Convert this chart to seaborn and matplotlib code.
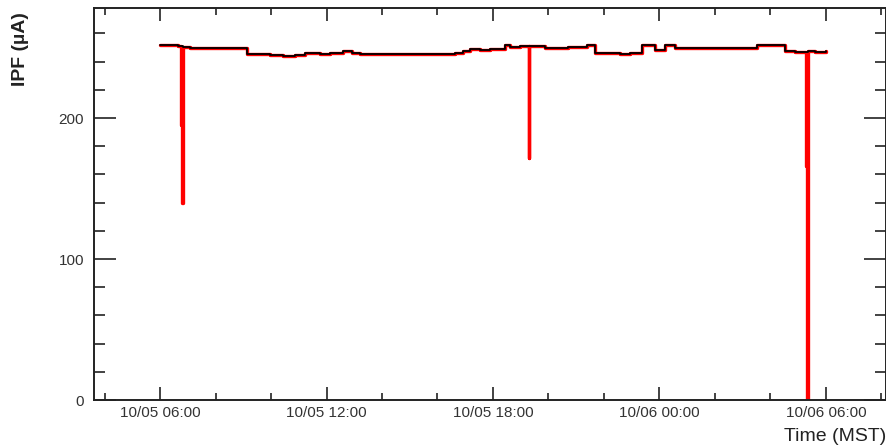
import pandas as pd
import matplotlib
matplotlib.use("Agg")
import matplotlib.pyplot as plt
import matplotlib.dates as mdates
import seaborn as sns

# beam current readings (step values)
times = [
    "10/05 06:00", "10/05 06:22", "10/05 06:39", "10/05 06:46", "10/05 06:47",
    "10/05 06:49", "10/05 07:05", "10/05 09:08", "10/05 09:58", "10/05 10:26",
    "10/05 10:52", "10/05 11:14", "10/05 11:46", "10/05 12:08", "10/05 12:36",
    "10/05 12:55", "10/05 13:12", "10/05 13:56", "10/05 14:39", "10/05 15:22",
    "10/05 16:05", "10/05 16:38", "10/05 16:55", "10/05 17:10", "10/05 17:32",
    "10/05 17:54", "10/05 18:15", "10/05 18:26", "10/05 18:37", "10/05 18:58",
    "10/05 19:18", "10/05 19:19", "10/05 19:52", "10/05 20:08", "10/05 20:25",
    "10/05 20:42", "10/05 21:23", "10/05 21:41", "10/05 22:35", "10/05 22:56",
    "10/05 23:22", "10/05 23:50", "10/06 00:12", "10/06 00:33", "10/06 01:49",
    "10/06 02:11", "10/06 03:31", "10/06 04:31", "10/06 04:53", "10/06 05:18",
    "10/06 05:19", "10/06 05:21", "10/06 05:22", "10/06 05:36", "10/06 06:00",
]
ipf = [
    251.9, 251.5, 250.8, 195.0, 140.0,
    250.5, 249.6, 245.6, 244.8, 243.7,
    244.5, 246.0, 245.4, 246.3, 247.3,
    246.0, 245.4, 245.7, 245.3, 245.6,
    245.4, 246.2, 247.5, 249.0, 248.0,
    248.8, 249.3, 252.0, 250.5, 250.8,
    171.6, 250.8, 249.5, 250.0, 249.6,
    250.5, 252.0, 246.0, 245.3, 246.0,
    251.5, 248.2, 251.9, 250.0, 249.6,
    250.0, 251.5, 247.3, 246.8, 166.0,
    0.0, 116.0, 247.3, 246.5, 247.3,
]

df = pd.DataFrame({
    "time": pd.to_datetime(["2023/" + t for t in times], format="%Y/%m/%d %H:%M"),
    "ipf": ipf,
})
# the black trace has no trips in it
steady = df[df["ipf"] > 230]

sns.set_style("ticks")
plt.rcParams["font.family"] = ["Liberation Sans", "DejaVu Sans"]

fig = plt.figure(figsize=(8.86, 4.47), dpi=100)
ax = fig.add_axes([0.106, 0.105, 0.894, 0.877])

sns.lineplot(data=df, x="time", y="ipf", ax=ax, color="#ff0000", lw=2.4,
             drawstyle="steps-post", estimator=None)
sns.lineplot(data=steady, x="time", y="ipf", ax=ax, color="black", lw=1.3,
             drawstyle="steps-post", estimator=None)

ax.set_xlim(pd.Timestamp("2023-10-05 03:37"), pd.Timestamp("2023-10-06 08:10"))
ax.set_ylim(0, 278)

ax.xaxis.set_major_locator(mdates.HourLocator(byhour=[0, 6, 12, 18]))
ax.xaxis.set_minor_locator(mdates.HourLocator(byhour=range(0, 24, 2)))
ax.xaxis.set_major_formatter(mdates.DateFormatter("%m/%d %H:%M"))
ax.set_yticks([0, 100, 200])
ax.set_yticks(range(0, 278, 20), minor=True)

ax.tick_params(which="both", direction="in", top=True, right=True,
               width=1.2, color="#222222", labelcolor="#333333", labelsize=11)
ax.tick_params(axis="x", which="major", length=9.5, pad=4)
ax.tick_params(axis="x", which="minor", length=5)
ax.tick_params(axis="y", which="major", length=16, pad=7)
ax.tick_params(axis="y", which="minor", length=8)

for sp in ax.spines.values():
    sp.set_linewidth(1.4)
    sp.set_color("#222222")

ax.set_ylabel("IPF (\u00b5A)", fontsize=14, fontweight="bold", color="#222222")
ax.yaxis.set_label_coords(-0.082, 0.99)
ax.yaxis.label.set_horizontalalignment("right")
ax.set_xlabel("Time (MST)", fontsize=14, color="#222222")
ax.xaxis.set_label_coords(1.0, -0.07)
ax.xaxis.label.set_horizontalalignment("right")

fig.savefig("out.png", dpi=100)
